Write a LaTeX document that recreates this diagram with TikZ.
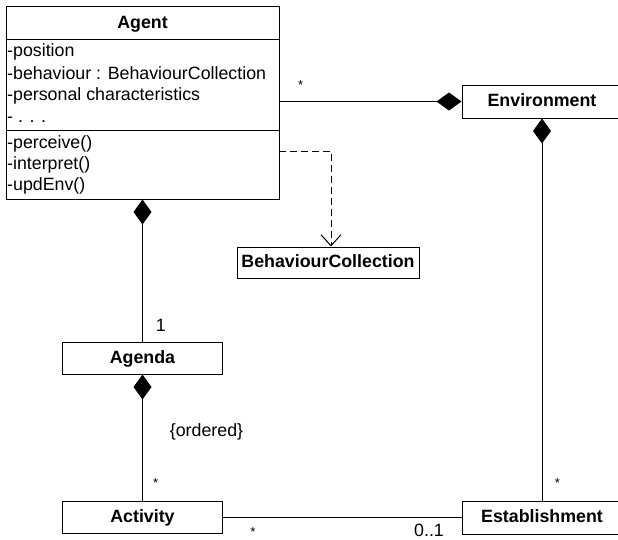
\documentclass[tikz,border=0pt]{standalone}
\usepackage{fontspec}
\setmainfont{Liberation Sans}
\usetikzlibrary{arrows.meta}

\newcommand\umlsize{\fontsize{17.8}{21.5}\selectfont}
\tikzset{
  classbox/.style={draw, line width=1pt, inner sep=0pt, text height=13pt, text depth=2.5pt,
                   font=\umlsize\bfseries},
  member/.style={anchor=base west, inner sep=0pt},
  mult/.style={anchor=base, inner sep=0pt},
  star/.style={anchor=base, inner sep=0pt, font=\fontsize{13}{15}\selectfont},
  assoc/.style={line width=1pt},
  comp/.style={line width=1pt, {Diamond[length=25pt,width=18pt]}-},
  dep/.style={line width=1pt, dash pattern=on 7pt off 4pt, -{Straight Barb[length=11pt,width=20pt]}},
}

\begin{document}
\begin{tikzpicture}[x=1pt, y=-1pt, font=\umlsize]
\clip (0,0) rectangle (618,539);

% Agent class: name, attributes, operations
\node[classbox, minimum width=273pt, minimum height=193pt] (agent) at (142.5,102.5) {};
\draw[line width=1pt] (6,39) -- (279,39);
\draw[line width=1pt] (6,130) -- (279,130);
\node[anchor=base, inner sep=0pt, font=\umlsize\bfseries] (agentname) at (142.5,28.3) {Agent};
\node[member] (a1) at (7,56.7) {-position};
\node[member] (a2) at (7,79) {-behaviour : BehaviourCollection};
\node[member] (a3) at (7,100.3) {-personal characteristics};
\node[member] (a4) at (7,122.5) {- . . .};
\node[member] (o1) at (7,148.3) {-perceive()};
\node[member] (o2) at (7,169.3) {-interpret()};
\node[member] (o3) at (7,190.3) {-updEnv()};

% Other classes
\node[classbox, minimum width=160pt, minimum height=33pt] (env) at (542,101.5) {Environment};
\node[classbox, minimum width=182pt, minimum height=31pt] (bc) at (328,262.5) {BehaviourCollection};
\node[classbox, minimum width=160pt, minimum height=32pt] (agenda) at (142.5,358) {Agenda};
\node[classbox, minimum width=160pt, minimum height=32pt] (activity) at (142.5,517) {Activity};
\node[classbox, minimum width=160pt, minimum height=33pt] (estab) at (542,517.5) {Establishment};

% Compositions
\draw[comp] (env.west) -- (env.west -| agent.east);
\draw[comp] (env.south) -- (estab.north);
\draw[comp] (agent.south) -- (agenda.north);
\draw[comp] (agenda.south) -- (activity.north);

% Plain association
\draw[assoc] (activity.east) -- (activity.east -| estab.west);

% Dependency on the behaviour collection
\coordinate (dstart) at (279,151);
\draw[dep] (dstart) -| ([xshift=3pt]bc.north);

% Multiplicities and constraint
\node[star] (m1) at (300.7,89.3) {*};
\node[mult] (m2) at (160.7,331) {1};
\node[star] (m3) at (155.7,487.6) {*};
\node[star] (m4) at (557.3,487.6) {*};
\node[star] (m5) at (253,536.6) {*};
\node[mult] (m6) at (429,536.5) {0..1};
\node[mult] (ord) at (206.5,436.5) {\{ordered\}};
\end{tikzpicture}
\end{document}
